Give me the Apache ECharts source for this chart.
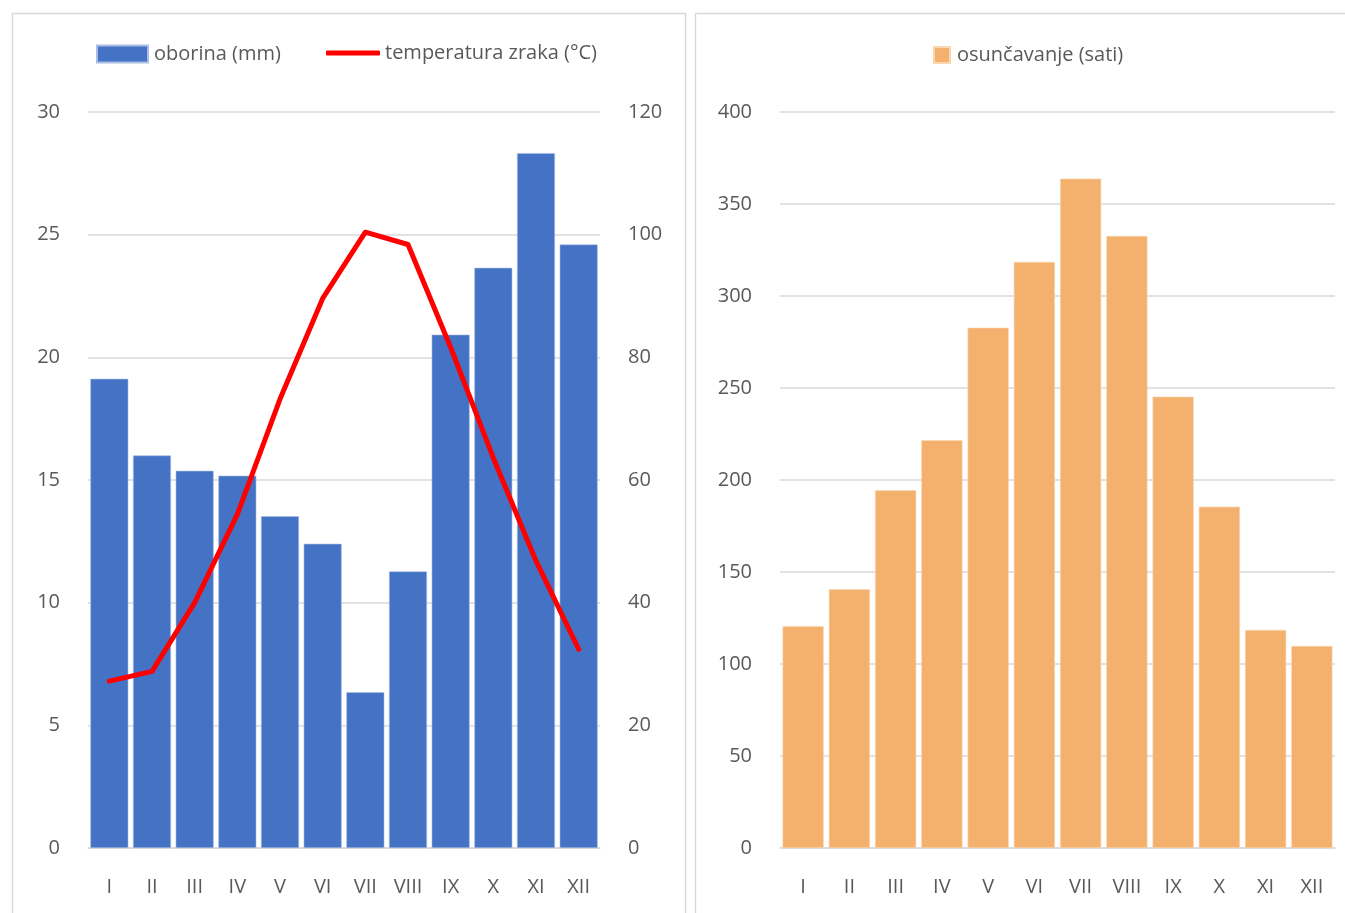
<!DOCTYPE html>
<html>
<head>
<meta charset="utf-8">
<script src="https://cdn.jsdelivr.net/npm/echarts@6/dist/echarts.min.js"></script>
<style>
html,body{margin:0;padding:0;background:#fff;}
#c{width:1345px;height:913px;}
</style>
</head>
<body>
<div id="c"></div>
<script>
const months = ['I','II','III','IV','V','VI','VII','VIII','IX','X','XI','XII'];
const oborina = [76.5, 64.0, 61.5, 60.7, 54.1, 49.6, 25.4, 45.1, 83.7, 94.6, 113.3, 98.4];
const temperatura = [6.8, 7.2, 10.0, 13.6, 18.3, 22.4, 25.1, 24.6, 20.4, 15.9, 11.7, 8.1];
const osuncavanje = [120.6, 140.6, 194.4, 221.6, 282.8, 318.5, 363.8, 332.6, 245.3, 185.5, 118.5, 109.8];
const nameOborina = 'oborina (mm)';
const nameTemp = 'temperatura zraka (°C)';
const nameSun = 'osunčavanje (sati)';

const FONT = 'Open Sans';
const LABEL = '#595959';
const GRID = '#d9d9d9';

const chart = echarts.init(document.getElementById('c'), null, {renderer: 'canvas'});

function valueAxis(gridIndex, max, interval, position) {
  return {
    type: 'value', gridIndex, min: 0, max, interval, position,
    axisLine: {show: false}, axisTick: {show: false},
    axisLabel: {color: LABEL, fontFamily: FONT, fontSize: 20, margin: 28},
    splitLine: {show: true, lineStyle: {color: GRID, width: 1.5}}
  };
}
function catAxis(gridIndex) {
  return {
    type: 'category', gridIndex, data: months,
    axisLine: {show: true, lineStyle: {color: GRID, width: 1.5}},
    axisTick: {show: false},
    axisLabel: {color: LABEL, fontFamily: FONT, fontSize: 20, margin: 29}
  };
}

chart.setOption({
  animation: false,
  backgroundColor: '#fff',
  graphic: [
    {type: 'rect', shape: {x: 12.5, y: 13.5, width: 673, height: 950}, style: {fill: 'none', stroke: GRID, lineWidth: 1.5}, silent: true, z: -10},
    {type: 'rect', shape: {x: 695.5, y: 13.5, width: 700, height: 950}, style: {fill: 'none', stroke: GRID, lineWidth: 1.5}, silent: true, z: -10}
  ],
  legend: [
    {data: [{name: nameOborina, icon: 'rect'}], left: 91, top: 39, itemWidth: 51, itemHeight: 17,
     textStyle: {color: LABEL, fontFamily: FONT, fontSize: 20, padding: [0,0,0,1]}},
    {data: [{name: nameTemp, icon: 'roundRect', itemStyle: {color: '#ff0000'}}], left: 321, top: 38, itemWidth: 54, itemHeight: 5,
     textStyle: {color: LABEL, fontFamily: FONT, fontSize: 20, padding: [0,0,0,0]}},
    {data: [{name: nameSun, icon: 'rect'}], left: 928, top: 40, itemWidth: 16, itemHeight: 16,
     textStyle: {color: LABEL, fontFamily: FONT, fontSize: 20, padding: [0,0,0,2]}}
  ],
  grid: [
    {left: 88, right: 1345 - 600, top: 112, height: 736},
    {left: 780, right: 1345 - 1335, top: 112, height: 736}
  ],
  xAxis: [catAxis(0), catAxis(1)],
  yAxis: [
    valueAxis(0, 30, 5, 'left'),
    Object.assign(valueAxis(0, 120, 20, 'right'), {splitLine: {show: false}}),
    valueAxis(1, 400, 50, 'left')
  ],
  series: [
    {name: nameOborina, type: 'bar', xAxisIndex: 0, yAxisIndex: 1, data: oborina,
     barCategoryGap: '11%', itemStyle: {color: '#4472c4', borderColor: '#a9bde6', borderWidth: 0.6}},
    {name: nameTemp, type: 'line', xAxisIndex: 0, yAxisIndex: 0, data: temperatura,
     symbol: 'none', lineStyle: {color: '#ff0000', width: 5, cap: 'round', join: 'round'}, itemStyle: {color: '#ff0000'}, z: 5},
    {name: nameSun, type: 'bar', xAxisIndex: 1, yAxisIndex: 2, data: osuncavanje,
     barCategoryGap: '11%', itemStyle: {color: '#f4b06d', borderColor: '#fad6b3', borderWidth: 0.6}}
  ]
});
</script>
</body>
</html>
